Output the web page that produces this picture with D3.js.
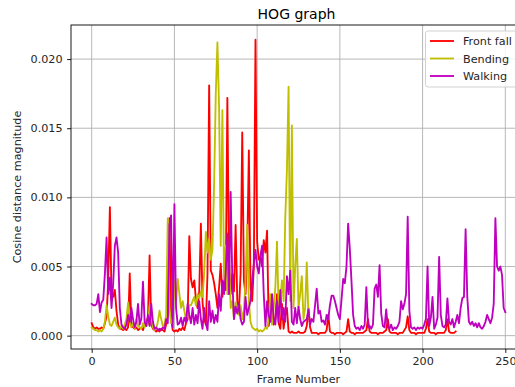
<!DOCTYPE html>
<html>
<head>
<meta charset="utf-8">
<script src="https://cdn.jsdelivr.net/npm/d3@7"></script>
<style>
  html, body { margin: 0; padding: 0; background: #fff; overflow: hidden; }
  svg { display: block; font-family: "DejaVu Sans", sans-serif; }
</style>
</head>
<body>
<svg id="chart" width="515" height="387"></svg>
<script>
// Cosine distance of HOG descriptors between consecutive frames, per activity
const frontFall = [
  0.0009, 0.0006, 0.0005, 0.0006, 0.0005, 0.0005, 0.0006, 0.0005, 0.0009, 0.0014,
  0.0040, 0.0093, 0.0029, 0.0028, 0.0033, 0.0018, 0.0008, 0.0005, 0.0005, 0.0004,
  0.0005, 0.0004, 0.0006, 0.0045, 0.0007, 0.0006, 0.0005, 0.0006, 0.0004, 0.0005,
  0.0006, 0.0004, 0.0008, 0.0007, 0.0012, 0.0058, 0.0008, 0.0005, 0.0004, 0.0003,
  0.0004, 0.0003, 0.0005, 0.0004, 0.0003, 0.0008, 0.0015, 0.0085, 0.0012, 0.0004,
  0.0003, 0.0004, 0.0003, 0.0005, 0.0004, 0.0006, 0.0004, 0.0009, 0.0012, 0.0072,
  0.0041, 0.0035, 0.0040, 0.0026, 0.0020, 0.0032, 0.0081, 0.0024, 0.0012, 0.0008,
  0.0045, 0.0181, 0.0047, 0.0044, 0.0038, 0.0030, 0.0020, 0.0035, 0.0052, 0.0028,
  0.0040, 0.0033, 0.0172, 0.0052, 0.0030, 0.0045, 0.0032, 0.0080, 0.0025, 0.0018,
  0.0045, 0.0147, 0.0040, 0.0030, 0.0060, 0.0134, 0.0035, 0.0025, 0.0050, 0.0214,
  0.0068, 0.0055, 0.0057, 0.0050, 0.0069, 0.0060, 0.0076, 0.0007, 0.0015, 0.0029,
  0.0008, 0.0012, 0.0030, 0.0009, 0.0005, 0.0023, 0.0005, 0.0015, 0.0020, 0.0003,
  0.0002, 0.0003, 0.0002, 0.0002, 0.0002, 0.0003, 0.0002, 0.0002, 0.0002, 0.0003,
  0.0007, 0.0020, 0.0006, 0.0002, 0.0002, 0.0002, 0.0002, 0.0001, 0.0002, 0.0002,
  0.0002, 0.0002, 0.0004, 0.0015, 0.0003, 0.0002, 0.0002, 0.0001, 0.0002, 0.0002,
  0.0002, 0.0002, 0.0001, 0.0002, 0.0003, 0.0012, 0.0003, 0.0002, 0.0002, 0.0001,
  0.0002, 0.0002, 0.0002, 0.0002, 0.0002, 0.0003, 0.0004, 0.0012, 0.0003, 0.0002,
  0.0002, 0.0002, 0.0002, 0.0001, 0.0002, 0.0002, 0.0002, 0.0003, 0.0004, 0.0012,
  0.0003, 0.0002, 0.0002, 0.0002, 0.0002, 0.0001, 0.0002, 0.0002, 0.0002, 0.0004,
  0.0006, 0.0014, 0.0004, 0.0002, 0.0002, 0.0002, 0.0001, 0.0002, 0.0002, 0.0002,
  0.0002, 0.0002, 0.0005, 0.0012, 0.0003, 0.0002, 0.0002, 0.0002, 0.0001, 0.0002,
  0.0002, 0.0002, 0.0002, 0.0002, 0.0004, 0.0012, 0.0003, 0.0002, 0.0002, 0.0002,
  0.0003
];

const bending = [
  0.0006, 0.0005, 0.0004, 0.0004, 0.0003, 0.0004, 0.0003, 0.0005, 0.0010, 0.0022,
  0.0014, 0.0008, 0.0007, 0.0010, 0.0013, 0.0008, 0.0006, 0.0005, 0.0007, 0.0005,
  0.0008, 0.0012, 0.0024, 0.0009, 0.0006, 0.0009, 0.0005, 0.0012, 0.0007, 0.0006,
  0.0005, 0.0009, 0.0006, 0.0012, 0.0008, 0.0022, 0.0015, 0.0006, 0.0004, 0.0005,
  0.0010, 0.0018, 0.0012, 0.0007, 0.0008, 0.0015, 0.0085, 0.0020, 0.0009, 0.0012,
  0.0040, 0.0025, 0.0041, 0.0030, 0.0020, 0.0025, 0.0018, 0.0012, 0.0015, 0.0022,
  0.0022, 0.0025, 0.0028, 0.0022, 0.0030, 0.0027, 0.0032, 0.0028, 0.0045, 0.0075,
  0.0060, 0.0070, 0.0055, 0.0062, 0.0110, 0.0175, 0.0212, 0.0165, 0.0065, 0.0163,
  0.0040, 0.0065, 0.0030, 0.0060, 0.0020, 0.0025, 0.0012, 0.0024, 0.0020, 0.0015,
  0.0022, 0.0012, 0.0018, 0.0040, 0.0080, 0.0025, 0.0010, 0.0006, 0.0005, 0.0004,
  0.0005, 0.0003, 0.0004, 0.0003, 0.0004, 0.0006, 0.0005, 0.0012, 0.0030, 0.0008,
  0.0020, 0.0035, 0.0068, 0.0018, 0.0025, 0.0040, 0.0025, 0.0085, 0.0120, 0.0180,
  0.0025, 0.0152, 0.0020, 0.0050, 0.0070, 0.0020, 0.0030, 0.0043, 0.0012, 0.0020,
  0.0053, 0.0015, 0.0011
];

const walking = [
  0.0023, 0.0022, 0.0022, 0.0023, 0.0030, 0.0017, 0.0024, 0.0026, 0.0045, 0.0071,
  0.0030, 0.0042, 0.0020, 0.0038, 0.0065, 0.0071, 0.0060, 0.0020, 0.0008, 0.0006,
  0.0005, 0.0008, 0.0015, 0.0010, 0.0020, 0.0012, 0.0006, 0.0010, 0.0023, 0.0008,
  0.0012, 0.0039, 0.0010, 0.0007, 0.0015, 0.0007, 0.0023, 0.0010, 0.0005, 0.0006,
  0.0004, 0.0005, 0.0004, 0.0006, 0.0005, 0.0012, 0.0009, 0.0080, 0.0087, 0.0006,
  0.0095, 0.0020, 0.0008, 0.0009, 0.0013, 0.0007, 0.0013, 0.0010, 0.0023, 0.0015,
  0.0009, 0.0020, 0.0008, 0.0015, 0.0009, 0.0025, 0.0012, 0.0005, 0.0020, 0.0009,
  0.0004, 0.0025, 0.0010, 0.0018, 0.0009, 0.0015, 0.0010, 0.0030, 0.0018, 0.0040,
  0.0030, 0.0045, 0.0074, 0.0030, 0.0104, 0.0040, 0.0012, 0.0021, 0.0016, 0.0023,
  0.0012, 0.0008, 0.0010, 0.0028, 0.0015, 0.0020, 0.0025, 0.0040, 0.0052, 0.0062,
  0.0050, 0.0045, 0.0058, 0.0065, 0.0030, 0.0007, 0.0025, 0.0015, 0.0010, 0.0030,
  0.0012, 0.0008, 0.0025, 0.0010, 0.0033, 0.0012, 0.0020, 0.0010, 0.0043, 0.0030,
  0.0047, 0.0010, 0.0008, 0.0020, 0.0009, 0.0021, 0.0012, 0.0007, 0.0010, 0.0011,
  0.0012, 0.0019, 0.0008, 0.0012, 0.0010, 0.0022, 0.0034, 0.0016, 0.0018, 0.0010,
  0.0011, 0.0008, 0.0015, 0.0012, 0.0022, 0.0029, 0.0029, 0.0025, 0.0020, 0.0015,
  0.0012, 0.0026, 0.0041, 0.0038, 0.0050, 0.0081, 0.0063, 0.0040, 0.0015, 0.0007,
  0.0005, 0.0006, 0.0004, 0.0007, 0.0005, 0.0008, 0.0035, 0.0006, 0.0007, 0.0005,
  0.0008, 0.0034, 0.0037, 0.0028, 0.0051, 0.0016, 0.0007, 0.0006, 0.0019, 0.0006,
  0.0005, 0.0008, 0.0004, 0.0006, 0.0005, 0.0007, 0.0010, 0.0025, 0.0019, 0.0023,
  0.0030, 0.0086, 0.0018, 0.0006, 0.0005, 0.0006, 0.0004, 0.0006, 0.0005, 0.0006,
  0.0005, 0.0008, 0.0012, 0.0050, 0.0007, 0.0013, 0.0028, 0.0005, 0.0008, 0.0013,
  0.0057, 0.0015, 0.0007, 0.0006, 0.0008, 0.0027, 0.0010, 0.0008, 0.0012, 0.0006,
  0.0010, 0.0015, 0.0009, 0.0020, 0.0027, 0.0028, 0.0077, 0.0028, 0.0010, 0.0008,
  0.0010, 0.0007, 0.0009, 0.0006, 0.0009, 0.0006, 0.0005, 0.0007, 0.0010, 0.0015,
  0.0012, 0.0009, 0.0013, 0.0023, 0.0085, 0.0050, 0.0047, 0.0050, 0.0044, 0.0020,
  0.0017
];

const seriesNames = ["Front fall", "Bending", "Walking"];
const seriesColors = ["#ff0000", "#bfbf00", "#bf00bf"];
const xTickValues = [0, 50, 100, 150, 200, 250];
const yTickValues = [0.000, 0.005, 0.010, 0.015, 0.020];

const series = [frontFall, bending, walking].map((values, i) => ({
  name: seriesNames[i], color: seriesColors[i], values
}));

const FONT = 11.2;       // ticks, labels, legend
const TITLE_FONT = 14;   // title
const LINE_W = 1.85;

// Plot area
const plot = { left: 71, right: 526, top: 25, bottom: 349 };

// Axis limits with a 5% margin around the data, like matplotlib's autoscale
const xMax = d3.max(series, s => s.values.length - 1);
const xPad = xMax * 0.05;
const allVals = series.flatMap(s => s.values);
const [yMin, yMax] = d3.extent(allVals);
const yPad = (yMax - yMin) * 0.05;

const x = d3.scaleLinear().domain([0 - xPad, xMax + xPad]).range([plot.left, plot.right]);
const y = d3.scaleLinear().domain([yMin - yPad, yMax + yPad]).range([plot.bottom, plot.top]);

const svg = d3.select("#chart");

// Grid lines
const grid = svg.append("g").attr("stroke", "#b0b0b0").attr("stroke-width", 0.9);
grid.selectAll("line.gx").data(xTickValues).join("line")
  .attr("x1", d => x(d)).attr("x2", d => x(d))
  .attr("y1", plot.top).attr("y2", plot.bottom);
grid.selectAll("line.gy").data(yTickValues).join("line")
  .attr("x1", plot.left).attr("x2", plot.right)
  .attr("y1", d => y(d)).attr("y2", d => y(d));

// Series lines
const line = d3.line().x((d, i) => x(i)).y(d => y(d));
svg.append("defs").append("clipPath").attr("id", "plotClip")
  .append("rect").attr("x", plot.left).attr("y", plot.top)
  .attr("width", plot.right - plot.left).attr("height", plot.bottom - plot.top);
svg.append("g").attr("clip-path", "url(#plotClip)")
  .selectAll("path").data(series).join("path")
  .attr("d", s => line(s.values))
  .attr("fill", "none")
  .attr("stroke", s => s.color)
  .attr("stroke-width", LINE_W)
  .attr("stroke-linejoin", "round")
  .attr("stroke-linecap", "square");

// Axes
const xAxis = d3.axisBottom(x).tickValues(xTickValues).tickSize(3.9).tickPadding(4.5)
  .tickFormat(d3.format("d"));
const yAxis = d3.axisLeft(y).tickValues(yTickValues).tickSize(3.9).tickPadding(4.5)
  .tickFormat(d3.format(".3f"));

const gx = svg.append("g").attr("transform", `translate(0,${plot.bottom})`).call(xAxis);
const gy = svg.append("g").attr("transform", `translate(${plot.left},0)`).call(yAxis);
[gx, gy].forEach(g => {
  g.select(".domain").remove();
  g.selectAll(".tick line").attr("stroke", "#000").attr("stroke-width", 0.9);
  g.selectAll(".tick text").attr("fill", "#262626")
    .style("font-size", FONT + "px").style("font-family", "'DejaVu Sans', sans-serif");
});

// Frame (spines)
svg.append("rect")
  .attr("x", plot.left).attr("y", plot.top)
  .attr("width", plot.right - plot.left).attr("height", plot.bottom - plot.top)
  .attr("fill", "none").attr("stroke", "#000").attr("stroke-width", 0.9);

// Title and axis labels
const cx = (plot.left + plot.right) / 2;
svg.append("text").attr("x", cx - 2).attr("y", 19)
  .attr("text-anchor", "middle").style("font-size", TITLE_FONT + "px").attr("fill", "#000")
  .text("HOG graph");
svg.append("text").attr("x", cx).attr("y", 383)
  .attr("text-anchor", "middle").style("font-size", FONT + "px").attr("fill", "#262626")
  .text("Frame Number");
svg.append("text")
  .attr("transform", `translate(21,${(plot.top + plot.bottom) / 2}) rotate(-90)`)
  .attr("text-anchor", "middle").style("font-size", FONT + "px").attr("fill", "#262626")
  .text("Cosine distance magnitude");

// Legend
const legend = svg.append("g");
const lg = { x: 425.5, y: 31, w: 95, h: 56 };
legend.append("rect")
  .attr("x", lg.x).attr("y", lg.y).attr("width", lg.w).attr("height", lg.h)
  .attr("rx", 2.5).attr("fill", "#fff").attr("fill-opacity", 0.8)
  .attr("stroke", "#cccccc").attr("stroke-width", 0.9);
const rows = legend.selectAll("g.row").data(series).join("g")
  .attr("transform", (d, i) => `translate(0,${41 + i * 17.5})`);
rows.append("line")
  .attr("x1", 430).attr("x2", 454).attr("y1", 0).attr("y2", 0)
  .attr("stroke", d => d.color).attr("stroke-width", LINE_W);
rows.append("text")
  .attr("x", 463).attr("y", 0).attr("dy", "0.36em")
  .style("font-size", FONT + "px").attr("fill", "#262626")
  .text(d => d.name);
</script>
</body>
</html>
